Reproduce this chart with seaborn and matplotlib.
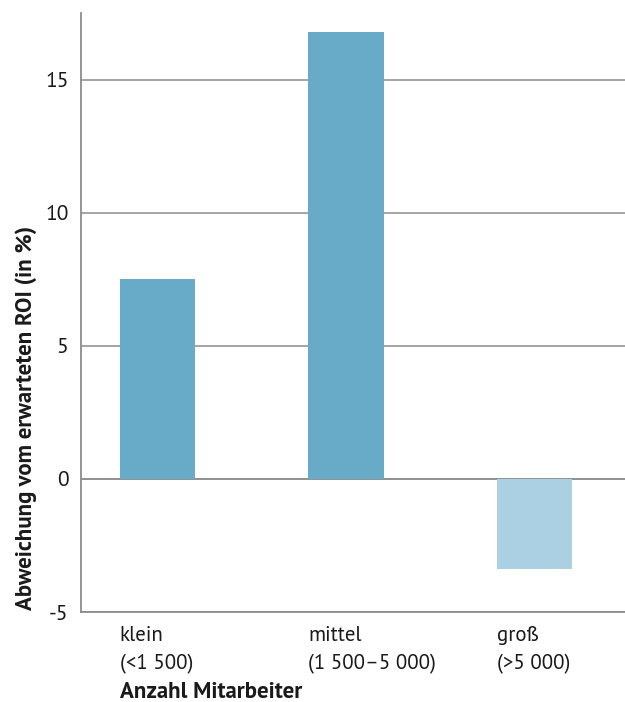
import matplotlib
matplotlib.use("Agg")
import matplotlib.pyplot as plt
import seaborn as sns
import pandas as pd

categories = ["klein", "mittel", "groß"]
sublabels = ["(<1 500)", "(1 500–5 000)", "(>5 000)"]
values = [7.5, 16.8, -3.4]
colors = ["#68abc8", "#68abc8", "#acd0e3"]
yticks = [-5, 0, 5, 10, 15]

sns.set_theme(style="white")
plt.rcParams["font.family"] = ["PT Sans", "DejaVu Sans"]

df = pd.DataFrame({"cat": categories, "val": values})

fig = plt.figure(figsize=(6.25, 7.02), dpi=100)
ax = fig.add_axes([0.1296, 0.1282, 0.8704, 0.8533])
w = 0.4
sns.barplot(data=df, x="cat", y="val", hue="cat", palette=colors, dodge=False,
            legend=False, width=w, saturation=1, ax=ax, linewidth=0)

grid_c = "#8c8c8c"
txt_c = "#1a1a1a"
ax.set_ylim(-5, 17.5)
ax.set_xlim(-0.406, 2.48)
ax.set_yticks(yticks)
ax.set_yticklabels([str(v) for v in yticks], fontsize=15.5, color=txt_c)
ax.yaxis.grid(True, color=grid_c, linewidth=1.1)
ax.set_axisbelow(True)
ax.axhline(0, color=grid_c, linewidth=1.1, zorder=0.5)
for s in ["top", "right"]:
    ax.spines[s].set_visible(False)
for s in ["left", "bottom"]:
    ax.spines[s].set_color(grid_c)
    ax.spines[s].set_linewidth(1.3)
ax.tick_params(axis="both", length=0)
ax.tick_params(axis="y", pad=9)

ax.set_xticks([i - w / 2 for i in range(len(categories))])
ax.set_xticklabels([f"{c}\n{s}" for c, s in zip(categories, sublabels)],
                   fontsize=15, ha="left", linespacing=1.6, color=txt_c)
ax.tick_params(axis="x", pad=10)

ax.set_xlabel("Anzahl Mitarbeiter", fontsize=16.5, fontweight="bold", color=txt_c)
ax.xaxis.set_label_coords((120 - 81) / 544, -0.117)
ax.xaxis.label.set_ha("left")
ax.set_ylabel("Abweichung vom erwarteten ROI (in %)", fontsize=16.5, fontweight="bold",
              color=txt_c)
ax.yaxis.set_label_coords(-0.1, 0.324)
ax.yaxis.label.set_va("center")

fig.savefig("out.png", dpi=100)
